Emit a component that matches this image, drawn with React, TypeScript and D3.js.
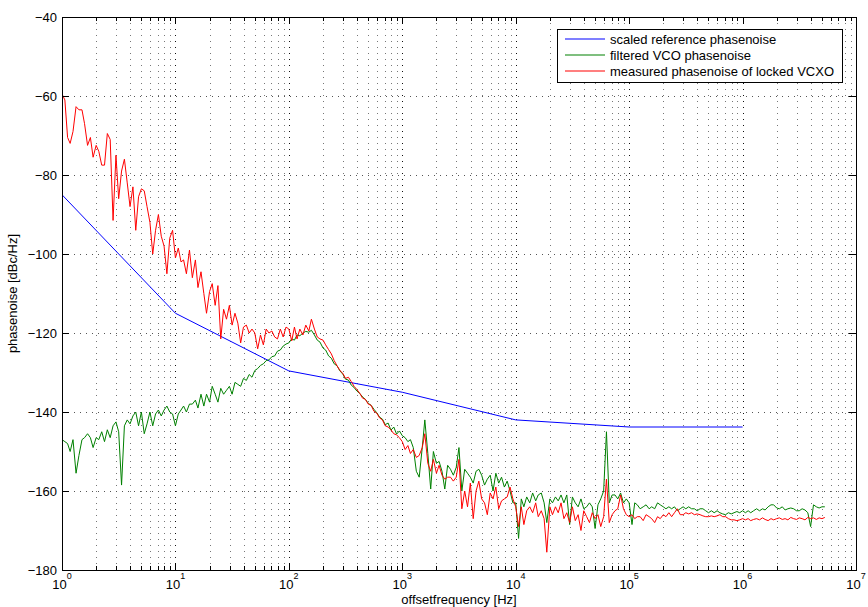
import React from 'react';
import * as d3 from 'd3';

// plot frame (pixels) of the 868x607 figure
const W = 868;
const H = 607;
const frame = { left: 62, top: 17, right: 856, bottom: 570 };

// scaled reference phasenoise (piecewise, one point per decade)
const refFreq = [1, 10, 100, 1e3, 1e4, 1e5, 1e6];
const refNoise = [-85, -115, -129.6, -135, -142, -143.8, -143.8];

// frequency grid of the two measured traces [Hz]
const measFreq = [
  1, 1.06, 1.12, 1.18, 1.25, 1.33, 1.41, 1.5, 1.58, 1.68, 1.78, 1.88, 2, 2.11, 2.24, 2.37, 2.51, 2.66, 2.82, 2.99,
  3.16, 3.35, 3.55, 3.76, 3.98, 4.22, 4.47, 4.73, 5.01, 5.31, 5.62, 5.96, 6.31, 6.68, 7.08, 7.5, 7.94, 8.41, 8.91, 9.44,
  10, 10.6, 11.2, 11.8, 12.5, 13.3, 14.1, 15, 15.8, 16.8, 17.8, 18.8, 20, 21.1, 22.4, 23.7, 25.1, 26.6, 28.2, 29.9,
  31.6, 33.5, 35.5, 37.6, 39.8, 42.2, 44.7, 47.3, 50.1, 53.1, 56.2, 59.6, 63.1, 66.8, 70.8, 75, 79.4, 84.1, 89.1, 94.4,
  100, 106, 112, 118, 125, 133, 141, 150, 158, 168, 178, 188, 200, 211, 224, 237, 251, 266, 282, 299,
  316, 335, 355, 376, 398, 422, 447, 473, 501, 531, 562, 596, 631, 668, 708, 750, 794, 841, 891, 944,
  1000, 1060, 1120, 1180, 1250, 1330, 1410, 1500, 1580, 1680, 1780, 1880, 2000, 2110, 2240, 2370, 2510, 2660, 2820, 2990,
  3160, 3350, 3550, 3760, 3980, 4220, 4470, 4730, 5010, 5310, 5620, 5960, 6310, 6680, 7080, 7500, 7940, 8410, 8910, 9440,
  1e4, 1.06e4, 1.12e4, 1.18e4, 1.25e4, 1.33e4, 1.41e4, 1.5e4, 1.58e4, 1.68e4, 1.78e4, 1.88e4, 2e4, 2.11e4, 2.24e4, 2.37e4, 2.51e4, 2.66e4, 2.82e4, 2.99e4,
  3.16e4, 3.35e4, 3.55e4, 3.76e4, 3.98e4, 4.22e4, 4.47e4, 4.73e4, 5.01e4, 5.31e4, 5.62e4, 5.96e4, 6.31e4, 6.68e4, 7.08e4, 7.5e4, 7.94e4, 8.41e4, 8.91e4, 9.44e4,
  1e5, 1.06e5, 1.12e5, 1.18e5, 1.25e5, 1.33e5, 1.41e5, 1.5e5, 1.58e5, 1.68e5, 1.78e5, 1.88e5, 2e5, 2.11e5, 2.24e5, 2.37e5, 2.51e5, 2.66e5, 2.82e5, 2.99e5,
  3.16e5, 3.35e5, 3.55e5, 3.76e5, 3.98e5, 4.22e5, 4.47e5, 4.73e5, 5.01e5, 5.31e5, 5.62e5, 5.96e5, 6.31e5, 6.68e5, 7.08e5, 7.5e5, 7.94e5, 8.41e5, 8.91e5, 9.44e5,
  1e6, 1.06e6, 1.12e6, 1.18e6, 1.25e6, 1.33e6, 1.41e6, 1.5e6, 1.58e6, 1.68e6, 1.78e6, 1.88e6, 2e6, 2.11e6, 2.24e6, 2.37e6, 2.51e6, 2.66e6, 2.82e6, 2.99e6,
  3.16e6, 3.35e6, 3.55e6, 3.76e6, 3.98e6, 4.22e6, 4.47e6, 4.73e6, 5.01e6, 5.31e6,
];

// filtered VCO phasenoise [dBc/Hz]
const vcoNoise = [
  -147, -147.5, -148, -150, -147, -155.5, -151, -147, -146.5, -145.5, -146.5, -149, -146.5, -147, -145, -147.5, -144.5, -146.5, -143.5, -142.5,
  -145, -158.5, -143.5, -142, -143, -141, -140, -143.5, -140, -145.5, -143, -140, -143.5, -140.5, -139.5, -141, -139.5, -138.5, -140, -140.5,
  -143.5, -140.5, -139.5, -138.5, -140, -138, -138, -137, -139, -135.5, -138.5, -135.5, -137.5, -133.5, -135.5, -137.5, -134, -135.5, -134.5, -133.5,
  -135.5, -132.5, -133, -133.5, -131.5, -132, -130.5, -131.2, -129.5, -129, -128.2, -127.8, -127, -126.8, -126, -125.8, -124.6, -124.3, -123.3, -122.8,
  -122.5, -121.5, -121.8, -120.5, -120.7, -120, -119.6, -119.8, -119.3, -120.5, -121.8, -122.3, -123.8, -124.3, -125.8, -126.4, -127.8, -128.3, -129.6, -130.4,
  -131.7, -131.9, -133.2, -133.8, -134.7, -135.3, -136.2, -136.8, -137.8, -138.3, -139.3, -140.2, -141.3, -141.8, -143.2, -142.8, -144.6, -143.8, -145.6, -144.8,
  -146, -146.5, -147.5, -147, -149, -155, -156.5, -149, -142, -150.5, -159.5, -150, -153, -152.5, -155, -159.5, -153.5, -154.5, -156, -154,
  -149, -160, -154.5, -155.5, -156.5, -158, -155, -154.5, -156, -158.5, -157, -156, -160, -155.5, -158, -156.5, -159, -157.5, -160, -163,
  -163, -172, -162, -164, -161.5, -163, -160.5, -162.5, -161, -160.5, -163, -168, -162, -163, -161.5, -162.5, -161, -163, -161, -168.5,
  -161.5, -163, -164, -162, -164.5, -164, -163, -164, -169.5, -163.5, -162, -160, -145, -163, -161, -161, -162, -160.5, -163, -162,
  -163, -168.5, -163, -163.5, -164.5, -164, -163.5, -164.5, -164, -164.5, -163, -163.5, -164, -164.5, -164, -164.5, -164, -165, -164.5, -164,
  -164.5, -164, -164.5, -164.5, -165, -164.5, -164.5, -165, -165.5, -165, -165.5, -165, -165.5, -165.8, -166, -165.5, -165.8, -165.5, -165.2, -165.5,
  -165, -165.5, -165, -165.5, -165, -164.5, -165, -164.5, -164.8, -164, -163.5, -163.5, -164.3, -164.5, -164, -164.8, -164.5, -164.3, -164.5, -165,
  -165, -164.5, -164.8, -165.5, -169, -163.5, -164, -164.3, -164, -164,
];

// measured phasenoise of locked VCXO [dBc/Hz]
const lockedNoise = [
  -59.5, -61, -70.5, -72, -69, -62.7, -63.5, -63.5, -67, -72.5, -70.5, -75.5, -72.5, -74, -77.5, -77.5, -69.5, -71, -91.5, -75,
  -86, -79, -76, -82, -88, -83, -94, -85.5, -83.5, -84, -88, -92, -100, -94, -90, -95.5, -98, -105, -96, -94,
  -101, -98.5, -102, -101.5, -105, -99, -106, -101.5, -108.5, -104.5, -110, -115, -109.5, -107.5, -113, -108, -121.5, -114, -116.5, -113,
  -118, -115, -117.5, -122.5, -118.5, -118, -120, -119, -120, -124, -120.5, -123, -119, -120, -119.5, -121, -121.5, -119, -121, -118.5,
  -119, -122, -118.5, -121.5, -119, -120.5, -118, -119.5, -116.5, -119, -121, -121.5, -121.8, -123, -124.2, -125.3, -127, -128.3, -129.5, -130.2,
  -131.5, -131.2, -132.3, -133.5, -134.3, -135.3, -136.5, -136.8, -138, -138.3, -139.8, -140.3, -141.5, -142, -143.5, -143.8, -144.5, -145.5, -145.8, -146.5,
  -147.5, -149.5, -148.5, -150.5, -149.5, -151.5, -151, -149, -145.5, -153, -155, -152, -155.5, -153.5, -156, -157, -156.5, -156.5, -157.5, -156.5,
  -152, -164.5, -160, -164, -158, -167, -160, -157.5, -162, -163, -166, -160.5, -162, -159, -164.5, -162.5, -162, -161.5, -159, -162,
  -164, -169, -164, -168.5, -165, -164, -165.5, -163, -166.5, -165, -167, -175.5, -164, -166, -164, -165.5, -163, -167, -165.5, -168,
  -164, -167.5, -166, -170, -165, -166.5, -168, -165.5, -167, -166, -169, -166.5, -157, -168, -166, -165, -164.5, -161, -164.5, -166,
  -166.5, -166, -167, -166.5, -166.5, -167.5, -166, -166.5, -167, -168, -166.5, -167, -166, -166.5, -165.5, -166.5, -165.5, -164.5, -166, -166,
  -165.5, -165.8, -165.5, -166, -165.8, -166, -166.3, -166.5, -166.5, -166.3, -166.5, -166.3, -166, -166.5, -166.5, -167, -167.3, -167.3, -167.5, -167.3,
  -167, -167.3, -167, -167.5, -167.2, -167, -167.3, -166.8, -167.2, -167.5, -167, -167.3, -167, -166.8, -167.2, -167, -167.3, -166.7, -167, -167.2,
  -166.8, -167, -167.3, -166.7, -167, -166.8, -167.2, -166.8, -167, -166.7,
];

const yTicks = [-180, -160, -140, -120, -100, -80, -60, -40];
const xTickExponents = [0, 1, 2, 3, 4, 5, 6, 7];

const legendLabels = ['scaled reference phasenoise', 'filtered VCO phasenoise', 'measured phasenoise of locked VCXO'];
const seriesColors = ['#0000ff', '#008000', '#ff0000'];

const font = 'Liberation Sans, Arial, Helvetica, sans-serif';

const App = () => {
  const x = d3.scaleLog().domain([1, 1e7]).range([frame.left, frame.right]);
  const y = d3.scaleLinear().domain([-180, -40]).range([frame.bottom, frame.top]);

  const line = d3.line<[number, number]>()
    .x(d => x(d[0]))
    .y(d => y(d[1]));

  const series: [number, number][][] = [
    d3.zip(refFreq, refNoise) as [number, number][],
    d3.zip(measFreq, vcoNoise) as [number, number][],
    d3.zip(measFreq, lockedNoise) as [number, number][],
  ];

  // decade and in-between log ticks
  const majorX = xTickExponents.map(e => 10 ** e);
  const minorX: number[] = [];
  for (let e = 0; e < 7; e++) {
    for (let m = 2; m <= 9; m++) minorX.push(m * 10 ** e);
  }

  const px = (v: number) => Math.round(v) + 0.5; // crisp 1px lines
  const tickMajor = 7;
  const tickMinor = 4;

  return (
    <svg width={W} height={H} style={{ position: 'absolute', left: 0, top: 0, background: '#fff' }}
         fontFamily={font}>
      <defs>
        <clipPath id="plotArea">
          <rect x={frame.left} y={frame.top} width={frame.right - frame.left} height={frame.bottom - frame.top} />
        </clipPath>
      </defs>
      <rect width={W} height={H} fill="#fff" />

      {/* dotted grid */}
      <g shapeRendering="crispEdges" strokeDasharray="1 5" strokeWidth={1}>
        {minorX.map(f => (
          <line key={'gx' + f} x1={px(x(f))} x2={px(x(f))} y1={frame.top} y2={frame.bottom} stroke="#777" />
        ))}
        {majorX.slice(1, -1).map(f => (
          <line key={'gX' + f} x1={px(x(f))} x2={px(x(f))} y1={frame.top} y2={frame.bottom} stroke="#111" />
        ))}
        {yTicks.slice(1, -1).map(v => (
          <line key={'gy' + v} x1={frame.left} x2={frame.right} y1={px(y(v))} y2={px(y(v))} stroke="#555" />
        ))}
      </g>

      {/* traces */}
      <g clipPath="url(#plotArea)" fill="none" strokeWidth={1} strokeLinejoin="round">
        {series.map((s, i) => (
          <path key={i} d={line(s) ?? ''} stroke={seriesColors[i]} />
        ))}
      </g>

      {/* ticks on all four sides */}
      <g stroke="#000" strokeWidth={1} shapeRendering="crispEdges">
        {minorX.map(f => (
          <g key={'t' + f}>
            <line x1={px(x(f))} x2={px(x(f))} y1={frame.bottom} y2={frame.bottom - tickMinor} />
            <line x1={px(x(f))} x2={px(x(f))} y1={frame.top} y2={frame.top + tickMinor} />
          </g>
        ))}
        {majorX.map(f => (
          <g key={'T' + f}>
            <line x1={px(x(f))} x2={px(x(f))} y1={frame.bottom} y2={frame.bottom - tickMajor} />
            <line x1={px(x(f))} x2={px(x(f))} y1={frame.top} y2={frame.top + tickMajor} />
          </g>
        ))}
        {yTicks.map(v => (
          <g key={'Ty' + v}>
            <line x1={frame.left} x2={frame.left + tickMajor} y1={px(y(v))} y2={px(y(v))} />
            <line x1={frame.right} x2={frame.right - tickMajor} y1={px(y(v))} y2={px(y(v))} />
          </g>
        ))}
        <rect x={frame.left + 0.5} y={frame.top + 0.5} width={frame.right - frame.left} height={frame.bottom - frame.top}
              fill="none" />
      </g>

      {/* tick labels */}
      <g fontSize={13} fill="#000">
        {yTicks.map(v => (
          <text key={'ly' + v} x={frame.left - 5} y={y(v) + 4.5} textAnchor="end">
            {String(v).replace('-', '\u2212')}
          </text>
        ))}
        {xTickExponents.map(e => (
          <text key={'lx' + e} x={x(10 ** e)} y={588.5} textAnchor="middle">
            10<tspan dy={-10} fontSize={9}>{e}</tspan>
          </text>
        ))}
      </g>

      {/* axis labels */}
      <text x={(frame.left + frame.right) / 2} y={604} textAnchor="middle" fontSize={13}>
        offsetfrequency [Hz]
      </text>
      <text transform={`translate(17, ${(frame.top + frame.bottom) / 2}) rotate(-90)`} textAnchor="middle" fontSize={13}>
        phasenoise [dBc/Hz]
      </text>

      {/* legend */}
      <g>
        <rect x={557.5} y={29.5} width={285} height={53} fill="#fff" stroke="#000" strokeWidth={1} shapeRendering="crispEdges" />
        {legendLabels.map((label, i) => (
          <g key={label} transform={`translate(0, ${39 + i * 16})`}>
            <line x1={565} x2={605} y1={0} y2={0} stroke={seriesColors[i]} strokeWidth={1.2} />
            <text x={610} y={5} fontSize={13}>{label}</text>
          </g>
        ))}
      </g>
    </svg>
  );
};

export default App;
